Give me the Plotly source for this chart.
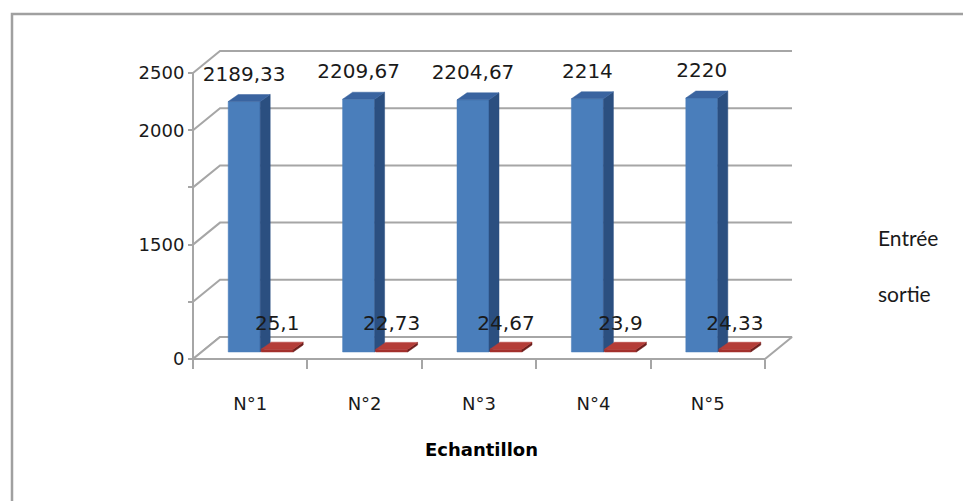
import plotly.graph_objects as go

# ---------------- data ----------------
categories = ["N°1", "N°2", "N°3", "N°4", "N°5"]
series_names = ["Entrée", "sortie"]
entree = [2189.33, 2209.67, 2204.67, 2214, 2220]
sortie = [25.1, 22.73, 24.67, 23.9, 24.33]
entree_labels = ["2189,33", "2209,67", "2204,67", "2214", "2220"]
sortie_labels = ["25,1", "22,73", "24,67", "23,9", "24,33"]
y_tickvals = [0, 500, 1000, 1500, 2000, 2500]
y_ticktext = ["0", "", "1500", "", "2000", "2500"]
x_title = "Echantillon"

# ---------------- geometry (pixel based) ----------------
W, H = 963, 501
FRONT_LEFT_PX, FRONT_RIGHT_PX = 193, 765
ZERO_PX, TOP_PX = 359, 73
PX_PER_X = (FRONT_RIGHT_PX - FRONT_LEFT_PX) / len(categories)
PX_PER_V = (ZERO_PX - TOP_PX) / y_tickvals[-1]


def dx(px):
    return px / PX_PER_X


def dv(px):
    return px / PX_PER_V


x_range = [-0.5 - dx(FRONT_LEFT_PX), -0.5 + dx(W - FRONT_LEFT_PX)]
y_range = [-dv(H - ZERO_PX), dv(ZERO_PX)]

WALL_DX, WALL_DY = dx(27), dv(22)
BAR_BASE = dv(7)
BAR_DX, BAR_DY = dx(10), dv(7)
BAR_W = dx(32)
SERIES_LEFT = [dx(-22), dx(11)]
LABEL_GAP = [dv(19), dv(17)]

GRID = "#a6a6a6"
FRONT = ["#4a7ebb", "#a3302c"]
SIDE = ["#2b4f80", "#6e1f1d"]
TOP = ["#3a64a0", "#b43d38"]
TXT = "#1a1a1a"

fig = go.Figure()

# back wall gridlines + left wall diagonals
gx, gy = [], []
n = len(categories)
for v in y_tickvals:
    gx += [-0.5, -0.5 + WALL_DX, n - 0.5 + WALL_DX, None]
    gy += [v, v + WALL_DY, v + WALL_DY, None]
fig.add_trace(go.Scatter(x=gx, y=gy, mode="lines", line=dict(color=GRID, width=2),
                         hoverinfo="skip", showlegend=False))

# floor
fig.add_trace(go.Scatter(
    x=[-0.5, n - 0.5, n - 0.5 + WALL_DX, -0.5 + WALL_DX, -0.5],
    y=[0, 0, WALL_DY, WALL_DY, 0],
    mode="lines", fill="toself", fillcolor="white",
    line=dict(color=GRID, width=2), hoverinfo="skip", showlegend=False))

# front-left vertical axis line
fig.add_trace(go.Scatter(x=[-0.5, -0.5], y=[0, y_tickvals[-1]], mode="lines",
                         line=dict(color=GRID, width=2), hoverinfo="skip", showlegend=False))

# 3D bars
for s, vals in enumerate([entree, sortie]):
    fx, fy, sx, sy, tx, ty = [], [], [], [], [], []
    for k, v in enumerate(vals):
        x0 = k + SERIES_LEFT[s]
        x1 = x0 + BAR_W
        b = BAR_BASE
        t = BAR_BASE + v
        fx += [x0, x1, x1, x0, x0, None]
        fy += [b, b, t, t, b, None]
        sx += [x1, x1 + BAR_DX, x1 + BAR_DX, x1, x1, None]
        sy += [b, b + BAR_DY, t + BAR_DY, t, b, None]
        tx += [x0, x1, x1 + BAR_DX, x0 + BAR_DX, x0, None]
        ty += [t, t, t + BAR_DY, t + BAR_DY, t, None]
    for xx, yy, col in [(fx, fy, FRONT[s]), (sx, sy, SIDE[s]), (tx, ty, TOP[s])]:
        fig.add_trace(go.Scatter(x=xx, y=yy, mode="lines", fill="toself", fillcolor=col,
                                 line=dict(color=col, width=0.5), hoverinfo="skip",
                                 showlegend=False))

# data labels
for s, (vals, labs) in enumerate([(entree, entree_labels), (sortie, sortie_labels)]):
    fig.add_trace(go.Scatter(
        x=[k + SERIES_LEFT[s] + BAR_W / 2 for k in range(n)],
        y=[v + BAR_BASE + BAR_DY + LABEL_GAP[s] for v in vals],
        mode="text", text=labs, textposition="middle center",
        textfont=dict(family="DejaVu Sans", size=20, color=TXT),
        xaxis="x2", hoverinfo="skip", showlegend=False, cliponaxis=False))

# legend entries (Excel legend shows no visible keys)
for s, name in enumerate(series_names):
    fig.add_trace(go.Scatter(x=[None], y=[None], mode="lines", name=name,
                             legendgroup=name, line=dict(color=FRONT[s], width=0)))

fig.update_layout(
    width=W, height=H, margin=dict(l=0, r=0, t=0, b=0),
    paper_bgcolor="white", plot_bgcolor="white",
    xaxis=dict(range=x_range, domain=[0, 1], anchor="free",
               position=(H - ZERO_PX) / H, showgrid=False, zeroline=False,
               showline=False, tickvals=[k - 0.5 for k in range(n + 1)],
               showticklabels=False, ticks="outside", ticklen=9,
               tickcolor=GRID, tickwidth=2),
    xaxis2=dict(range=x_range, overlaying="x", anchor="free",
                position=(H - 391) / H, showgrid=False, zeroline=False,
                showline=False, tickvals=list(range(n)), ticktext=categories,
                ticks="", tickfont=dict(family="DejaVu Sans", size=18, color=TXT),
                title=dict(text="<b>" + x_title + "</b>", standoff=30,
                           font=dict(family="DejaVu Sans", size=18, color="black"))),
    yaxis=dict(range=y_range, domain=[0, 1], anchor="free",
               position=FRONT_LEFT_PX / W, showgrid=False, zeroline=False,
               showline=False, tickvals=y_tickvals, ticktext=y_ticktext,
               ticks="outside", ticklen=5, tickcolor=GRID, tickwidth=2,
               tickfont=dict(family="DejaVu Sans", size=18, color=TXT)),
    legend=dict(x=838 / W, y=1 - 218 / H, xanchor="left", yanchor="top",
                font=dict(family="Lato", size=21, color=TXT),
                tracegroupgap=25, traceorder="grouped", bgcolor="rgba(0,0,0,0)"),
    shapes=[dict(type="rect", xref="paper", yref="paper",
                 x0=12 / W, x1=1.05, y0=-0.05, y1=1 - 14 / H,
                 line=dict(color="#a0a0a0", width=2.5), layer="below")],
    showlegend=True,
)

fig.write_html("out.html")
